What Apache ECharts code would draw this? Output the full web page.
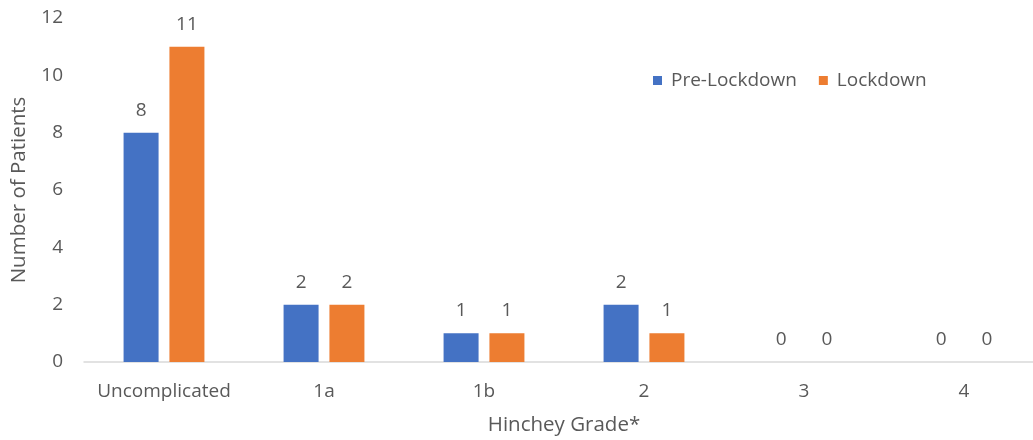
<!DOCTYPE html>
<html>
<head>
<meta charset="utf-8">
<script src="https://cdn.jsdelivr.net/npm/echarts@6/dist/echarts.min.js"></script>
<style>
  html, body { margin: 0; padding: 0; background: #fff; }
  #chart { width: 1033px; height: 440px; }
</style>
</head>
<body>
<div id="chart"></div>
<script>
// Hinchey grade categories and patient counts per period
const grades = ['Uncomplicated', '1a', '1b', '2', '3', '4'];
const preLockdown = [8, 2, 1, 2, 0, 0];
const lockdown = [11, 2, 1, 1, 0, 0];
const yTicks = { min: 0, max: 12, interval: 2 };

const FONT = '"Open Sans", "Noto Sans", sans-serif';
const TEXT = '#595959';
const FS = 19;        // tick, value and legend text
const FS_NAME = 20.5; // axis titles

const chart = echarts.init(document.getElementById('chart'), null, { renderer: 'canvas' });

const labelStyle = {
  show: true,
  position: 'top',
  distance: 13,
  color: TEXT,
  fontSize: FS,
  fontFamily: FONT
};

chart.setOption({
  animation: false,
  backgroundColor: '#ffffff',
  textStyle: { fontFamily: FONT },
  grid: { left: 84, right: -11, top: 18, bottom: 78, containLabel: false, outerBoundsMode: 'none' },
  legend: {
    data: ['Pre-Lockdown', 'Lockdown'],
    left: 648,
    top: 66,
    icon: 'rect',
    itemWidth: 9,
    itemHeight: 9,
    itemGap: 22,
    textStyle: { color: TEXT, fontSize: FS, fontFamily: FONT, padding: [0, 0, 0, 4] }
  },
  xAxis: {
    type: 'category',
    data: grades,
    name: 'Hinchey Grade*',
    nameLocation: 'middle',
    nameGap: 53,
    nameMoveOverlap: false,
    nameTextStyle: { color: TEXT, fontSize: FS_NAME, fontFamily: FONT },
    axisLine: { show: true, lineStyle: { color: '#d9d9d9', width: 1.5 } },
    axisTick: { show: false },
    axisLabel: { color: TEXT, fontSize: FS, fontFamily: FONT, margin: 20, interval: 0 },
    splitLine: { show: false }
  },
  yAxis: {
    type: 'value',
    min: yTicks.min,
    max: yTicks.max,
    interval: yTicks.interval,
    name: 'Number of Patients',
    nameLocation: 'middle',
    nameGap: 54,
    nameRotate: 90,
    nameMoveOverlap: false,
    nameTextStyle: { color: TEXT, fontSize: FS_NAME, fontFamily: FONT },
    axisLine: { show: false },
    axisTick: { show: false },
    axisLabel: { color: TEXT, fontSize: FS, fontFamily: FONT, margin: 21 },
    splitLine: { show: false }
  },
  series: [
    {
      name: 'Pre-Lockdown',
      type: 'bar',
      data: preLockdown,
      barWidth: 35,
      barGap: '31%',
      itemStyle: { color: '#4472C4' },
      label: labelStyle
    },
    {
      name: 'Lockdown',
      type: 'bar',
      data: lockdown,
      barWidth: 35,
      barGap: '31%',
      itemStyle: { color: '#ED7D31' },
      label: labelStyle
    }
  ]
});
</script>
</body>
</html>
